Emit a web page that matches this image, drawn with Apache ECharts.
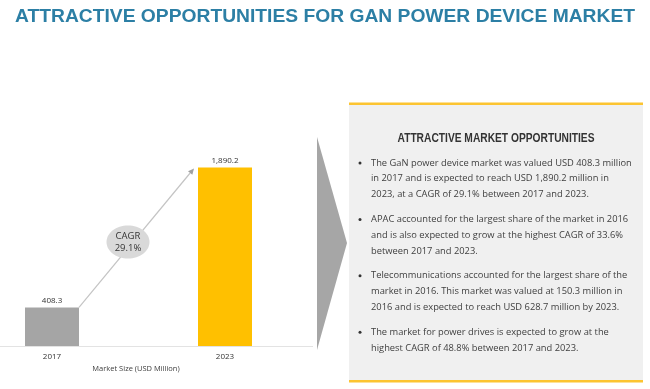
<!DOCTYPE html>
<html><head><meta charset="utf-8">
<script src="https://cdn.jsdelivr.net/npm/echarts@6/dist/echarts.min.js"></script>
<style>html,body{margin:0;padding:0;background:#fff}#c{width:650px;height:389px}</style>
</head><body><div id="c"></div>
<script>
const categories = ['2017', '2023'];
const marketSize = [408.3, 1890.2];
const barColors = ['#a5a5a5', '#ffc000'];
const cagrText = ['CAGR', '29.1%'];
const axisName = 'Market Size (USD Million)';
const titleText = 'ATTRACTIVE OPPORTUNITIES FOR GAN POWER DEVICE MARKET';
const panelTitle = 'ATTRACTIVE MARKET OPPORTUNITIES';
const bullets = [
  ['The GaN power device market was valued USD 408.3 million',
   'in 2017 and is expected to reach USD 1,890.2 million in',
   '2023, at a CAGR of 29.1% between 2017 and 2023.'],
  ['APAC accounted for the largest share of the market in 2016',
   'and is also expected to grow at the highest CAGR of 33.6%',
   'between 2017 and 2023.'],
  ['Telecommunications accounted for the largest share of the',
   'market in 2016. This market was valued at 150.3 million in',
   '2016 and is expected to reach USD 628.7 million by 2023.'],
  ['The market for power drives is expected to grow at the',
   'highest CAGR of 48.8% between 2017 and 2023.']
];

function fmt(v) {
  const p = v.toFixed(1).split('.');
  p[0] = p[0].replace(/\B(?=(\d{3})+(?!\d))/g, ',');
  return p.join('.');
}
const ctx = document.createElement('canvas').getContext('2d');
function tw(t, font) { ctx.font = font; return ctx.measureText(t).width; }

const chart = echarts.init(document.getElementById('c'), null, {renderer: 'canvas'});
const BAR_W = 54;

chart.setOption({
  animation: false,
  grid: {left: 52, right: 425, top: 157, bottom: 43},
  xAxis: {
    type: 'category', data: categories, boundaryGap: false,
    axisLine: {show: false}, axisTick: {show: false}, splitLine: {show: false},
    axisLabel: {margin: 7, fontSize: 8, color: '#333', fontFamily: 'Open Sans'},
    name: axisName, nameLocation: 'middle', nameGap: 19,
    nameTextStyle: {fontSize: 7.5, color: '#404040', fontFamily: 'Open Sans', padding: [0, 5, 0, 0]}
  },
  yAxis: {type: 'value', min: 0, max: 2000, show: false, splitLine: {show: false}},
  series: [{
    type: 'bar', barWidth: BAR_W, clip: false,
    data: marketSize.map((v, i) => ({value: v, itemStyle: {color: barColors[i]}})),
    label: {show: true, position: 'top', distance: 3, fontSize: 8, color: '#333',
      fontFamily: 'Open Sans', formatter: p => fmt(p.value)}
  }]
});

// annotations
const g = [];
g.push({type: 'line', shape: {x1: 0, y1: 346.5, x2: 313, y2: 346.5}, style: {stroke: '#e3e3e3', lineWidth: 1}, z: -1});

// arrow between bars
const a = chart.convertToPixel({gridIndex: 0}, [0, marketSize[0]]);
const b = chart.convertToPixel({gridIndex: 0}, [1, marketSize[1]]);
const x1 = a[0] + BAR_W / 2, y1 = a[1];
const x2 = b[0] - BAR_W / 2 - 4, y2 = b[1] + 1;
const ang = Math.atan2(y2 - y1, x2 - x1);
const L = 6, H = 2.8;
const bx = x2 - L * Math.cos(ang), by = y2 - L * Math.sin(ang);
g.push({type: 'line', shape: {x1: x1, y1: y1, x2: bx, y2: by}, style: {stroke: '#c4c4c4', lineWidth: 1.2}});
g.push({type: 'polygon', shape: {points: [[x2, y2],
  [bx + H * Math.sin(ang), by - H * Math.cos(ang)],
  [bx - H * Math.sin(ang), by + H * Math.cos(ang)]]}, style: {fill: '#a0a0a0'}});

// CAGR ellipse
g.push({type: 'ellipse', shape: {cx: 128, cy: 242, rx: 21.5, ry: 16.5}, style: {fill: '#d9d9d9'}});
g.push({type: 'text', x: 128, y: 236, style: {text: cagrText[0], x: 0, y: 0, fontSize: 9.5, fontFamily: 'Open Sans', fill: '#333', textAlign: 'center', textVerticalAlign: 'middle'}});
g.push({type: 'text', x: 128, y: 248.5, style: {text: cagrText[1], x: 0, y: 0, fontSize: 9.5, fontFamily: 'Open Sans', fill: '#333', textAlign: 'center', textVerticalAlign: 'middle'}});

// title
const tFont = 'bold 19px "Liberation Sans"';
g.push({type: 'text', x: 15, y: 17, scaleX: 620 / tw(titleText, tFont),
  style: {text: titleText, x: 0, y: 0, font: tFont, fill: '#2c7fa5', textAlign: 'left', textVerticalAlign: 'middle'}});

// chevron
g.push({type: 'polygon', shape: {points: [[317, 137], [347, 243], [317, 350]]}, style: {fill: '#a6a6a6'}});

// panel
g.push({type: 'rect', shape: {x: 349, y: 104, width: 294, height: 277}, style: {fill: '#f0f0f0'}});
g.push({type: 'rect', shape: {x: 349, y: 102.5, width: 294, height: 2.5}, style: {fill: '#fcc431'}});
g.push({type: 'rect', shape: {x: 349, y: 380, width: 294, height: 2.5}, style: {fill: '#fcc431'}});

const hFont = 'bold 13.5px "Liberation Sans"';
g.push({type: 'text', x: 496, y: 138, scaleX: 197 / tw(panelTitle, hFont),
  style: {text: panelTitle, x: 0, y: 0, font: hFont, fill: '#333', textAlign: 'center', textVerticalAlign: 'middle'}});

const bfs = 9 * 261 / tw(bullets[0][0], '9px "Open Sans"');
const bFont = bfs.toFixed(2) + 'px "Open Sans"';
let y = 163;
const LH = 15.8, GAP = 9;
bullets.forEach(par => {
  g.push({type: 'circle', shape: {cx: 360, cy: y, r: 1.5}, style: {fill: '#333'}});
  par.forEach((line, j) => {
    g.push({type: 'text', x: 371, y: y + j * LH, style: {text: line, x: 0, y: 0, font: bFont, fill: '#404040', textAlign: 'left', textVerticalAlign: 'middle'}});
  });
  y += par.length * LH + GAP;
});

chart.setOption({graphic: {elements: g}});
</script>
</body></html>
